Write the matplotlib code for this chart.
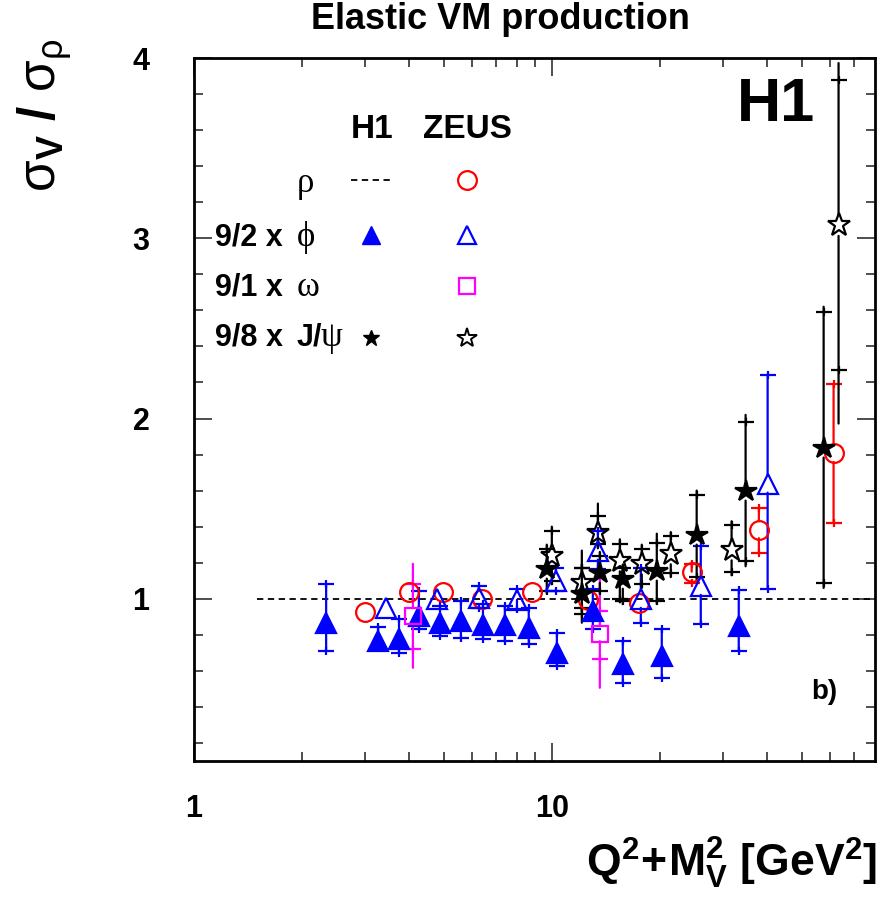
import matplotlib
matplotlib.use("Agg")
import matplotlib.pyplot as plt
from matplotlib.ticker import FixedLocator, NullFormatter
import numpy as np

## Donnees (sigma_V / sigma_rho)
## nan = erreur cachee par le marqueur

# H1 phi (x 9/2)
h1_phi_x = [2.34, 3.27, 3.74, 4.25, 4.87, 5.57, 6.42, 7.39, 8.62, 10.33, 13.02, 15.79, 20.29, 33.3]
h1_phi_y = [0.867, 0.767, 0.778, 0.906, 0.867, 0.878, 0.856, 0.856, 0.839, 0.700, 0.933, 0.639, 0.683, 0.850]
h1_phi_hi = [1.083, 0.844, 0.889, 1.044, 0.961, 0.989, 0.972, 0.961, 0.950, 0.811, 1.056, 0.767, 0.833, 1.050]
h1_phi_lo = [0.711, 0.730, 0.700, 0.833, 0.794, 0.783, 0.778, 0.767, 0.750, 0.628, 0.833, 0.533, 0.561, 0.711]

# ZEUS phi (x 9/2)
zeus_phi_x = [3.44, 4.77, 6.25, 7.99, 10.26, 13.45, 17.73, 26.08, 40.1]
zeus_phi_y = [0.950, 1.000, 1.006, 0.994, 1.100, 1.267, 1.000, 1.072, 1.639]
zeus_phi_hi = [np.nan, np.nan, 1.072, 1.056, 1.172, 1.378, 1.172, 1.294, 2.244]
zeus_phi_lo = [np.nan, np.nan, 0.950, 0.944, 1.044, 1.167, 0.867, 0.861, 1.056]

# ZEUS rho
zeus_rho_x = [3.00, 3.99, 4.96, 6.38, 8.80, 12.60, 17.50, 24.6, 37.9, 61.3]
zeus_rho_y = [0.928, 1.039, 1.039, 1.000, 1.039, 0.994, 0.978, 1.150, 1.383, 1.806]
zeus_rho_hi = [np.nan] * 7 + [1.194, 1.506, 2.189]
zeus_rho_lo = [np.nan] * 7 + [1.089, 1.256, 1.422]

# ZEUS omega (x 9/1)
zeus_om_x = [4.09, 13.62]
zeus_om_y = [0.906, 0.806]
zeus_om_hi = [1.083, 0.933]
zeus_om_lo = [0.722, 0.667]
zeus_om_thi = [1.194, 1.111]
zeus_om_tlo = [0.617, 0.506]

# H1 J/psi (x 9/8)
h1_jpsi_x = [9.68, 12.13, 13.62, 15.79, 19.65, 25.4, 34.8, 57.5]
h1_jpsi_y = [1.167, 1.028, 1.144, 1.111, 1.156, 1.356, 1.600, 1.839]
h1_jpsi_hi = [1.278, 1.172, 1.239, 1.172, 1.311, 1.578, 1.983, 2.589]
h1_jpsi_lo = [1.044, 0.917, 1.044, 0.989, 0.989, 1.122, 1.211, 1.089]
h1_jpsi_thi = [1.300, 1.267, 1.260, 1.190, 1.361, 1.600, 2.020, 2.620]
h1_jpsi_tlo = [1.030, 0.867, 1.030, 0.970, 0.970, 1.100, 1.180, 1.060]

# ZEUS J/psi (x 9/8)
zeus_jpsi_x = [10.0, 12.13, 13.45, 15.49, 17.84, 21.50, 31.8, 63.3]
zeus_jpsi_y = [1.239, 1.089, 1.367, 1.211, 1.194, 1.250, 1.272, 3.072]
zeus_jpsi_hi = [1.378, 1.170, 1.461, 1.306, 1.278, 1.350, 1.411, 3.878]
zeus_jpsi_lo = [1.100, 0.950, 1.306, 1.000, 1.083, 1.144, 1.150, 2.267]
zeus_jpsi_thi = [1.400, 1.190, 1.528, 1.330, 1.300, 1.370, 1.430, 3.972]
zeus_jpsi_tlo = [1.080, 0.930, 1.280, 0.980, 1.060, 1.120, 1.130, 1.972]

# H1 rho : reference
rho_ref = 1.0
rho_xmin = 1.5

BLUE = "#0000ff"
RED = "#ff0000"
MAG = "#ff00ff"
BLK = "#000000"

plt.rcParams['font.family'] = ['Liberation Sans', 'DejaVu Sans']
plt.rcParams['mathtext.fontset'] = 'custom'
plt.rcParams['mathtext.rm'] = 'Liberation Sans'
plt.rcParams['mathtext.bf'] = 'Liberation Sans:bold'
plt.rcParams['mathtext.it'] = 'Liberation Sans:italic'

fig = plt.figure(figsize=(8.82, 8.98), dpi=100)
ax = fig.add_axes([0.22, 0.1526, 0.772, 0.7828])

LW = 1.6


def draw(x, y, lo, hi, color, marker, ms, filled, tlo=None, thi=None, z=3):
    # lignes d'erreur interrompues autour du marqueur (style ROOT)
    if tlo is None:
        tlo = lo
    if thi is None:
        thi = hi
    for xi, yi, a, b in zip(x, y, tlo, thi):
        for end in (a, b):
            if np.isnan(end):
                continue
            ax.annotate("", xy=(xi, end), xytext=(xi, yi),
                        arrowprops=dict(arrowstyle='-', color=color, lw=LW,
                                        shrinkA=ms * 0.45, shrinkB=0),
                        zorder=z)
    # petits traits aux extremites
    for ends in (lo, hi):
        ax.plot(x, ends, ls='none', marker='_', ms=11, mew=LW, color=color, zorder=z)
        ax.plot(x, ends, ls='none', marker='|', ms=6, mew=LW, color=color, zorder=z)
    ax.plot(x, y, ls='none', marker=marker, ms=ms, mew=LW, color=color,
            mfc=color if filled else 'none', zorder=z + 1)


ax.set_xscale('log')
ax.set_xlim(1, 80)
ax.set_ylim(0.1, 4.0)

# ligne H1 rho
ax.plot([rho_xmin, 80], [rho_ref, rho_ref], ls=(0, (3.5, 2.5)), color=BLK, lw=1.3, zorder=2)

draw(zeus_rho_x, zeus_rho_y, zeus_rho_lo, zeus_rho_hi, RED, 'o', 13.5, False)
draw(h1_phi_x, h1_phi_y, h1_phi_lo, h1_phi_hi, BLUE, '^', 14.5, True)
draw(zeus_phi_x, zeus_phi_y, zeus_phi_lo, zeus_phi_hi, BLUE, '^', 14.5, False)
draw(zeus_om_x, zeus_om_y, zeus_om_lo, zeus_om_hi, MAG, 's', 12, False, zeus_om_tlo, zeus_om_thi)
draw(h1_jpsi_x, h1_jpsi_y, h1_jpsi_lo, h1_jpsi_hi, BLK, '*', 16, True, h1_jpsi_tlo, h1_jpsi_thi)
draw(zeus_jpsi_x, zeus_jpsi_y, zeus_jpsi_lo, zeus_jpsi_hi, BLK, '*', 17, False, zeus_jpsi_tlo, zeus_jpsi_thi)

# axes
ax.xaxis.set_major_locator(FixedLocator([1, 10]))
ax.xaxis.set_minor_locator(FixedLocator([2, 3, 4, 5, 6, 7, 8, 9, 20, 30, 40, 50, 60, 70]))
ax.xaxis.set_minor_formatter(NullFormatter())
ax.set_xticklabels(["1", "10"])
ax.yaxis.set_major_locator(FixedLocator([1, 2, 3, 4]))
ax.yaxis.set_minor_locator(FixedLocator(np.arange(0.2, 4.0, 0.2)))
ax.set_yticklabels(["1", "2", "3", "4"])
ax.tick_params(which='both', direction='in', top=True, right=True, width=1.3, color='#404040')
ax.tick_params(which='major', length=13)
ax.tick_params(which='minor', length=6.5)
ax.tick_params(axis='x', which='major', labelsize=22, pad=24)
ax.tick_params(axis='y', which='major', labelsize=22, pad=32)
for lab in ax.get_xticklabels() + ax.get_yticklabels():
    lab.set_fontweight('bold')
for s in ax.spines.values():
    s.set_linewidth(2)

fig.text(0.567, 0.978, "Elastic VM production", ha='center', va='center',
         fontsize=26, fontweight='bold')
fig.text(0.051, 0.957, r'$\mathrm{\sigma}_{\mathbf{V}}\ \mathbf{/}\ \mathrm{\sigma}_{\mathrm{\rho}}$',
         rotation=90, ha='center', va='top', fontsize=37)
fig.text(0.994, 0.008, r'$\mathbf{Q^2\!+\!M_V^2\ [GeV^2]}$', ha='right', va='bottom',
         fontsize=32)

ax.text(0.855, 0.932, "H1", transform=ax.transAxes, ha='center', va='center',
        fontsize=44, fontweight='bold')
ax.text(0.925, 0.098, "b)", transform=ax.transAxes, ha='center', va='center',
        fontsize=20, fontweight='bold')

# legende
T = ax.transAxes
ax.text(0.261, 0.898, "H1", transform=T, ha='center', va='center', fontsize=24, fontweight='bold')
ax.text(0.401, 0.898, "ZEUS", transform=T, ha='center', va='center', fontsize=24, fontweight='bold')
greek = ['Liberation Serif', 'DejaVu Serif']
rows_y = [0.822, 0.744, 0.673, 0.602]
ax.text(0.151, rows_y[0], "ρ", transform=T, ha='left', va='center', fontsize=25, family=greek)
ax.text(0.031, rows_y[1], "9/2 x", transform=T, ha='left', va='center', fontsize=22, fontweight='bold')
ax.text(0.151, rows_y[1], "ϕ", transform=T, ha='left', va='center', fontsize=25, family=greek)
ax.text(0.031, rows_y[2], "9/1 x", transform=T, ha='left', va='center', fontsize=22, fontweight='bold')
ax.text(0.151, rows_y[2], "ω", transform=T, ha='left', va='center', fontsize=25, family=greek)
ax.text(0.031, rows_y[3], "9/8 x", transform=T, ha='left', va='center', fontsize=22, fontweight='bold')
ax.text(0.151, rows_y[3], "J/", transform=T, ha='left', va='center', fontsize=22, fontweight='bold')
ax.text(0.186, rows_y[3], "ψ", transform=T, ha='left', va='center', fontsize=25, family=greek)

ax.plot([0.231, 0.291], [0.826, 0.826], transform=T, ls=(0, (3.5, 2.5)), color=BLK, lw=1.3)
ax.plot([0.401], [0.826], transform=T, marker='o', ms=13.5, mfc='none', mec=RED, mew=1.6)
ax.plot([0.260], [0.748], transform=T, marker='^', ms=12.5, color=BLUE)
ax.plot([0.401], [0.748], transform=T, marker='^', ms=12.5, mfc='none', mec=BLUE, mew=1.6)
ax.plot([0.401], [0.676], transform=T, marker='s', ms=12, mfc='none', mec=MAG, mew=1.6)
ax.plot([0.260], [0.602], transform=T, marker='*', ms=12, color=BLK)
ax.plot([0.401], [0.602], transform=T, marker='*', ms=15, mfc='none', mec=BLK, mew=1.4)

fig.savefig("out.png", dpi=100)
